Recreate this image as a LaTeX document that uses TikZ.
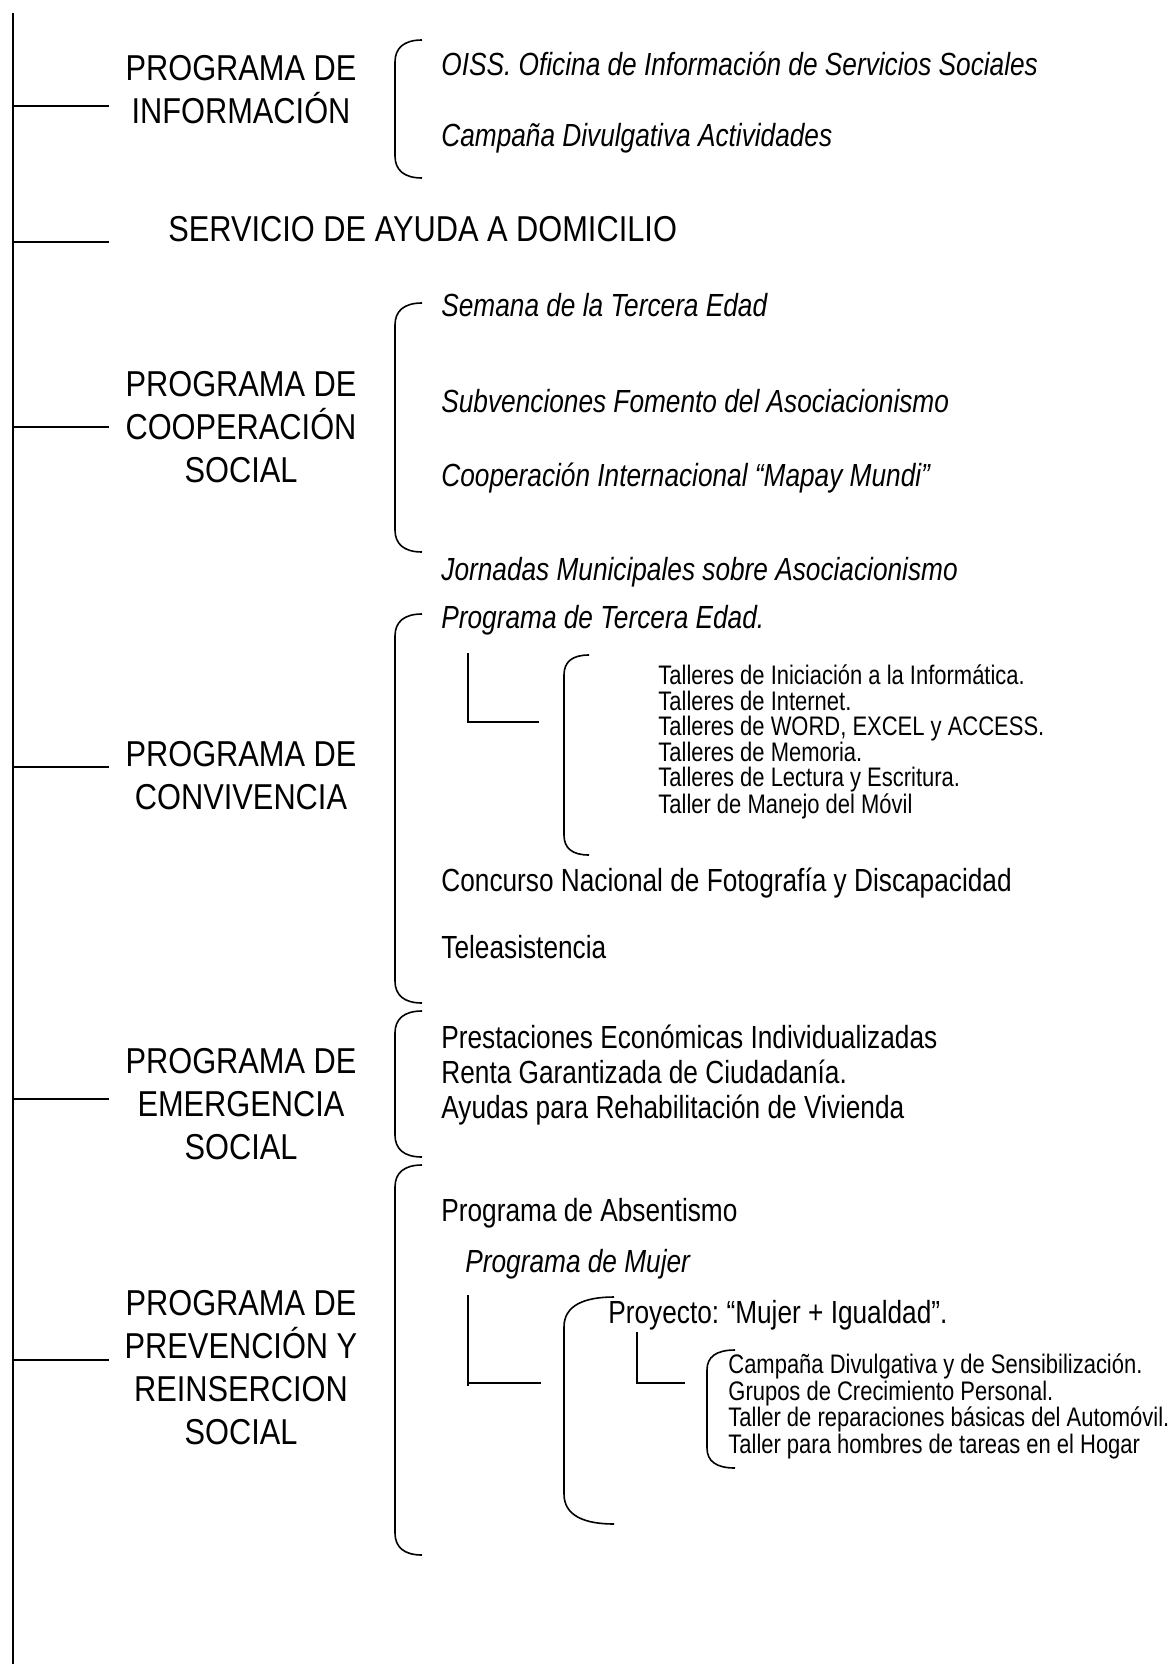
\documentclass[tikz,border=0pt]{standalone}
\usepackage{fontspec}
\setmainfont{Liberation Sans}[FakeStretch=0.82]
\newfontfamily\labfont{Liberation Sans}[FakeStretch=0.855]
\usepackage{tikz}
\frenchspacing

\begin{document}
\begin{tikzpicture}[x=0.5pt,y=-0.5pt,
    tronco/.style={line width=1pt},
    rama/.style={line width=0.8pt},
    llave/.style={line width=0.8pt},
    prog/.style={font=\labfont\fontsize{18}{21.5}\selectfont,align=center,inner sep=0pt},
    elem/.style={font=\fontsize{16}{17.5}\selectfont,anchor=base west,inner sep=0pt},
    elemit/.style={elem,font=\fontsize{16}{17.5}\selectfont\itshape},
    taller/.style={font=\fontsize{13.4}{13.4}\selectfont,anchor=base west,inner sep=0pt}]
    \useasboundingbox (0,0) rectangle (1170,1664);
    % tronco y ramas
    \coordinate (top) at (13,13);
    \coordinate (bot) at (13,1664);
    \draw[tronco] (top)--(bot);
    \coordinate (t1) at (13,106);
    \coordinate (t2) at (13,242);
    \coordinate (t3) at (13,427);
    \coordinate (t4) at (13,767);
    \coordinate (t5) at (13,1099);
    \coordinate (t6) at (13,1360);
    \draw[rama] (t1)--++(96,0);
    \draw[rama] (t2)--++(96,0);
    \draw[rama] (t3)--++(96,0);
    \draw[rama] (t4)--++(96,0);
    \draw[rama] (t5)--++(96,0);
    \draw[rama] (t6)--++(96,0);
    % programas
    \node[prog] (inf) at (241,90) {PROGRAMA DE\\INFORMACIÓN};
    \node[prog,anchor=base west] (sad) at (168,242) {SERVICIO DE AYUDA A DOMICILIO};
    \node[prog] (coo) at (241,427) {PROGRAMA DE\\COOPERACIÓN\\SOCIAL};
    \node[prog] (con) at (241,776) {PROGRAMA DE\\CONVIVENCIA};
    \node[prog] (eme) at (241,1104) {PROGRAMA DE\\EMERGENCIA\\SOCIAL};
    \node[prog] (pre) at (241,1368) {PROGRAMA DE\\PREVENCIÓN Y\\REINSERCION\\SOCIAL};
    % llaves
    \draw[llave] (422,40) .. controls (404,40) and (395,48) .. (395,62)--(395,156) .. controls (395,170) and (404,178) .. (422,178);
    \draw[llave] (422,303) .. controls (404,303) and (395,311) .. (395,325)--(395,530) .. controls (395,544) and (404,552) .. (422,552);
    \draw[llave] (422,614) .. controls (404,614) and (395,622) .. (395,636)--(395,981) .. controls (395,995) and (404,1003) .. (422,1003);
    \draw[llave] (422,1011) .. controls (404,1011) and (395,1019) .. (395,1033)--(395,1135) .. controls (395,1149) and (404,1157) .. (422,1157);
    \draw[llave] (422,1165) .. controls (404,1165) and (395,1173) .. (395,1187)--(395,1533) .. controls (395,1547) and (404,1555) .. (422,1555);
    \draw[llave] (589,655) .. controls (572,655) and (564,662) .. (564,675)--(564,835) .. controls (564,848) and (572,855) .. (589,855);
    \draw[llave] (614,1297) .. controls (585,1297) and (564,1305) .. (564,1327)--(564,1494) .. controls (564,1516) and (585,1524) .. (614,1524);
    \draw[llave] (735,1350) .. controls (716,1350) and (707,1357) .. (707,1370)--(707,1448) .. controls (707,1461) and (716,1468) .. (735,1468);
    % informacion
    \node[elemit] (oiss) at (441,76) {OISS. Oficina de Información de Servicios Sociales};
    \node[elemit] (cdiv) at (441,147) {Campaña Divulgativa Actividades};
    % cooperacion
    \node[elemit] (sem) at (441,316) {Semana de la Tercera Edad};
    \node[elemit] (sub) at (441,412) {Subvenciones Fomento del Asociacionismo};
    \node[elemit] (cin) at (441,486) {Cooperación Internacional “Mapay Mundi”};
    \node[elemit] (jor) at (441,580) {Jornadas Municipales sobre Asociacionismo};
    % convivencia
    \node[elemit] (pte) at (441,628) {Programa de Tercera Edad.};
    \coordinate (l1) at (468,653);
    \draw[rama] (l1)--++(0,69)--++(71,0);
    \node[taller] (ta1) at (658,684) {Talleres de Iniciación a la Informática.};
    \node[taller] (ta2) at (658,710) {Talleres de Internet.};
    \node[taller] (ta3) at (658,735) {Talleres de WORD, EXCEL y ACCESS.};
    \node[taller] (ta4) at (658,761) {Talleres de Memoria.};
    \node[taller] (ta5) at (658,786) {Talleres de Lectura y Escritura.};
    \node[taller] (ta6) at (658,813) {Taller de Manejo del Móvil};
    \node[elem] (conc) at (441,891) {Concurso Nacional de Fotografía y Discapacidad};
    \node[elem] (tele) at (441,958) {Teleasistencia};
    % emergencia
    \node[elem] (pres) at (441,1048) {Prestaciones Económicas Individualizadas};
    \node[elem] (rent) at (441,1083) {Renta Garantizada de Ciudadanía.};
    \node[elem] (ayu) at (441,1118) {Ayudas para Rehabilitación de Vivienda};
    % prevencion
    \node[elem] (abs) at (441,1221) {Programa de Absentismo};
    \node[elemit] (muj) at (465,1272) {Programa de Mujer};
    \coordinate (l2) at (468,1295);
    \draw[rama] (l2)--++(0,91);
    \draw[rama] (468,1383)--++(73,0);
    \node[elem] (proy) at (608,1323) {Proyecto: “Mujer + Igualdad”.};
    \coordinate (l3) at (637,1332);
    \draw[rama] (l3)--++(0,51)--++(48,0);
    \node[taller] (cam1) at (728,1373) {Campaña Divulgativa y de Sensibilización.};
    \node[taller] (cam2) at (728,1400) {Grupos de Crecimiento Personal.};
    \node[taller] (cam3) at (728,1426) {Taller de reparaciones básicas del Automóvil.};
    \node[taller] (cam4) at (728,1453) {Taller para hombres de tareas en el Hogar};
\end{tikzpicture}
\end{document}
